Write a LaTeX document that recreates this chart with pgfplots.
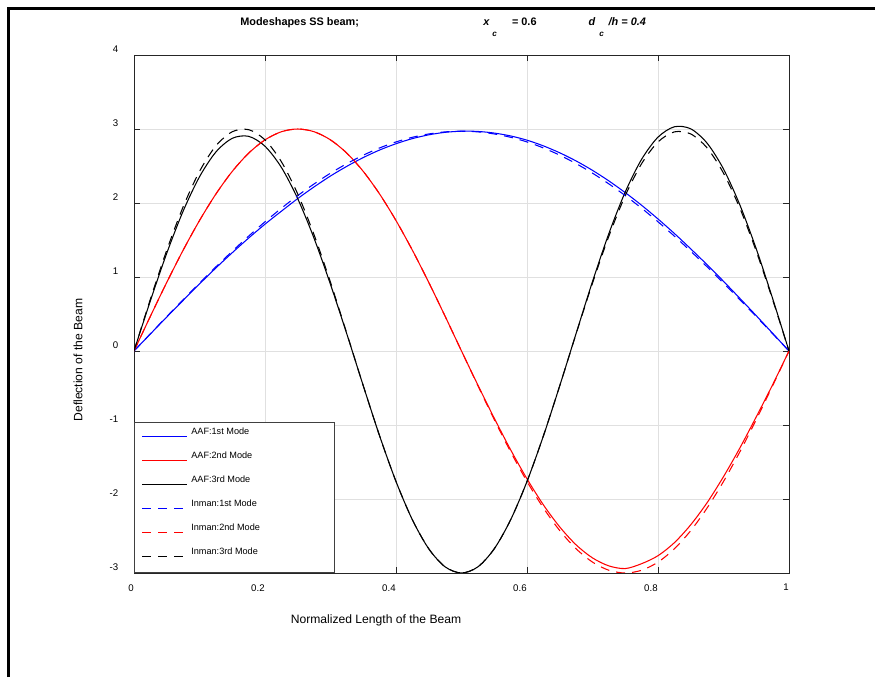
\documentclass[border=0pt]{standalone}
\usepackage{fontspec}
\setmainfont{Liberation Sans}
\usepackage{pgfplots}
\pgfplotsset{compat=1.18}
\usepackage{pgfplotstable}
\pgfplotstableread{
x a1 a2 a3 i1 i2 i3
0 0 0 0 0 0 0
0.025 0.230 0.469 0.679 0.233 0.469 0.700
0.05 0.459 0.927 1.321 0.465 0.927 1.362
0.075 0.684 1.362 1.890 0.693 1.362 1.948
0.1 0.906 1.763 2.354 0.918 1.763 2.427
0.125 1.122 2.121 2.689 1.137 2.121 2.772
0.15 1.328 2.427 2.874 1.348 2.427 2.963
0.175 1.526 2.673 2.901 1.552 2.673 2.991
0.2 1.714 2.853 2.767 1.746 2.853 2.853
0.225 1.889 2.963 2.481 1.929 2.963 2.558
0.25 2.060 3.000 2.057 2.100 3.000 2.121
0.275 2.218 2.963 1.521 2.258 2.963 1.568
0.3 2.365 2.853 0.899 2.403 2.853 0.927
0.325 2.496 2.673 0.228 2.532 2.673 0.235
0.35 2.614 2.427 -0.469 2.646 2.427 -0.469
0.375 2.716 2.121 -1.148 2.744 2.121 -1.148
0.4 2.801 1.763 -1.763 2.825 1.763 -1.763
0.425 2.870 1.362 -2.281 2.888 1.362 -2.281
0.45 2.921 0.927 -2.673 2.933 0.927 -2.673
0.475 2.955 0.469 -2.917 2.961 0.469 -2.917
0.5 2.970 0 -3.000 2.970 0 -3.000
0.525 2.967 -0.460 -2.917 2.961 -0.469 -2.917
0.55 2.945 -0.908 -2.673 2.933 -0.927 -2.673
0.575 2.906 -1.335 -2.281 2.888 -1.362 -2.281
0.6 2.849 -1.728 -1.763 2.825 -1.763 -1.763
0.625 2.772 -2.079 -1.148 2.744 -2.121 -1.148
0.65 2.678 -2.378 -0.469 2.646 -2.427 -0.469
0.675 2.568 -2.620 0.238 2.532 -2.673 0.233
0.7 2.441 -2.796 0.939 2.403 -2.853 0.918
0.725 2.298 -2.904 1.588 2.258 -2.963 1.552
0.75 2.140 -2.940 2.149 2.100 -3.000 2.100
0.775 1.969 -2.874 2.591 1.929 -2.963 2.532
0.8 1.784 -2.766 2.890 1.746 -2.853 2.825
0.825 1.588 -2.590 3.030 1.552 -2.673 2.961
0.85 1.380 -2.348 3.002 1.348 -2.427 2.933
0.875 1.165 -2.049 2.808 1.137 -2.121 2.744
0.9 0.942 -1.698 2.459 0.918 -1.763 2.403
0.925 0.711 -1.310 1.973 0.693 -1.362 1.929
0.95 0.477 -0.890 1.380 0.465 -0.927 1.348
0.975 0.239 -0.455 0.709 0.233 -0.469 0.693
1 0 0 0 0 0 0
}\modes
\newcommand{\solidkey}[1]{\textcolor{#1}{\rule[-0.3pt]{0.9cm}{0.6pt}}}
\newcommand{\dashkey}[1]{\textcolor{#1}{\rule[-0.3pt]{0.18cm}{0.6pt}\hspace*{0.14cm}\rule[-0.3pt]{0.18cm}{0.6pt}\hspace*{0.14cm}\rule[-0.3pt]{0.18cm}{0.6pt}}}
\newcommand{\leg}[2]{\makebox[3.69cm][l]{\makebox[0.9cm][l]{#1}\hspace*{0.086cm}\raisebox{0.045cm}[0pt][0pt]{#2}}}
\begin{document}
\begin{tikzpicture}[x=1cm,y=1cm]
\path[use as bounding box] (0,0) rectangle (17.5,13.54);
\draw[line width=0.06cm] (0.18,0) -- (0.18,13.374) -- (17.5,13.374);
\begin{axis}[
  at={(2.68cm,2.08cm)}, anchor=south west, scale only axis,
  width=13.1cm, height=10.36cm,
  xmin=0, xmax=1, ymin=-3, ymax=4,
  xtick={0,0.2,0.4,0.6,0.8,1}, xticklabels={0,0.2,0.4,0.6,0.8,1},
  ytick={-3,-2,-1,0,1,2,3,4}, yticklabels={-3,-2,-1,0,1,2,3,4},
  tick align=inside, tick pos=both,
  major tick length=0.12cm,
  tick style={black!85, line width=0.4pt},
  axis line style={black!85, line width=0.5pt},
  grid=major, major grid style={black!12, line width=0.4pt},
  xticklabel style={font=\fontsize{5.5}{6}\selectfont, anchor=north east, inner sep=0pt, yshift=-0.22cm},
  yticklabel style={font=\fontsize{5.5}{6}\selectfont, anchor=base east, inner sep=0pt, xshift=-0.31cm, yshift=0.04cm},
  xlabel={Normalized Length of the Beam},
  xlabel style={at={(axis description cs:0.3695,-0.0907)}, anchor=center, font=\fontsize{6.9}{8}\selectfont},
  ylabel={Deflection of the Beam},
  ylabel style={at={(axis description cs:-0.0855,0.411)}, anchor=center, font=\fontsize{6.9}{8}\selectfont},
  legend style={at={(0,0)}, anchor=south west, fill=white, draw=black!75,
    inner xsep=0.154cm, inner ysep=0.06cm, row sep=0pt, column sep=0pt,
    font=\fontsize{5.2}{6}\selectfont, nodes={minimum height=0.48cm, inner sep=0pt}},
  legend cell align=left,
  legend image code/.code={},
]
\addplot[color=blue, line width=0.6pt, smooth] table[x=x,y=a1]{\modes};
\addlegendentry{\leg{\solidkey{blue}}{AAF:1st Mode}}
\addplot[color=red, line width=0.6pt, smooth] table[x=x,y=a2]{\modes};
\addlegendentry{\leg{\solidkey{red}}{AAF:2nd Mode}}
\addplot[color=black, line width=0.6pt, smooth] table[x=x,y=a3]{\modes};
\addlegendentry{\leg{\solidkey{black}}{AAF:3rd Mode}}
\addplot[color=blue, line width=0.6pt, smooth, dash pattern=on 0.18cm off 0.14cm] table[x=x,y=i1]{\modes};
\addlegendentry{\leg{\dashkey{blue}}{Inman:1st Mode}}
\addplot[color=red, line width=0.6pt, smooth, dash pattern=on 0.18cm off 0.14cm] table[x=x,y=i2]{\modes};
\addlegendentry{\leg{\dashkey{red}}{Inman:2nd Mode}}
\addplot[color=black, line width=0.6pt, smooth, dash pattern=on 0.18cm off 0.14cm] table[x=x,y=i3]{\modes};
\addlegendentry{\leg{\dashkey{black}}{Inman:3rd Mode}}
\end{axis}
\node[anchor=base west, inner sep=0pt, font=\bfseries\fontsize{6.2}{7}\selectfont] at (4.80,13.02) {Modeshapes SS beam;};
\node[anchor=base west, inner sep=0pt, font=\bfseries\itshape\fontsize{6.2}{7}\selectfont] at (9.66,13.02) {x};
\node[anchor=base west, inner sep=0pt, font=\bfseries\itshape\fontsize{4.6}{5}\selectfont] at (9.84,12.80) {c};
\node[anchor=base west, inner sep=0pt, font=\bfseries\fontsize{6.2}{7}\selectfont] at (10.234,13.02) {= 0.6};
\node[anchor=base west, inner sep=0pt, font=\bfseries\itshape\fontsize{6.2}{7}\selectfont] at (11.766,13.02) {d};
\node[anchor=base west, inner sep=0pt, font=\bfseries\itshape\fontsize{4.6}{5}\selectfont] at (11.98,12.80) {c};
\node[anchor=base west, inner sep=0pt, font=\bfseries\itshape\fontsize{6.2}{7}\selectfont] at (12.166,13.02) {/h = 0.4};
\end{tikzpicture}
\end{document}
